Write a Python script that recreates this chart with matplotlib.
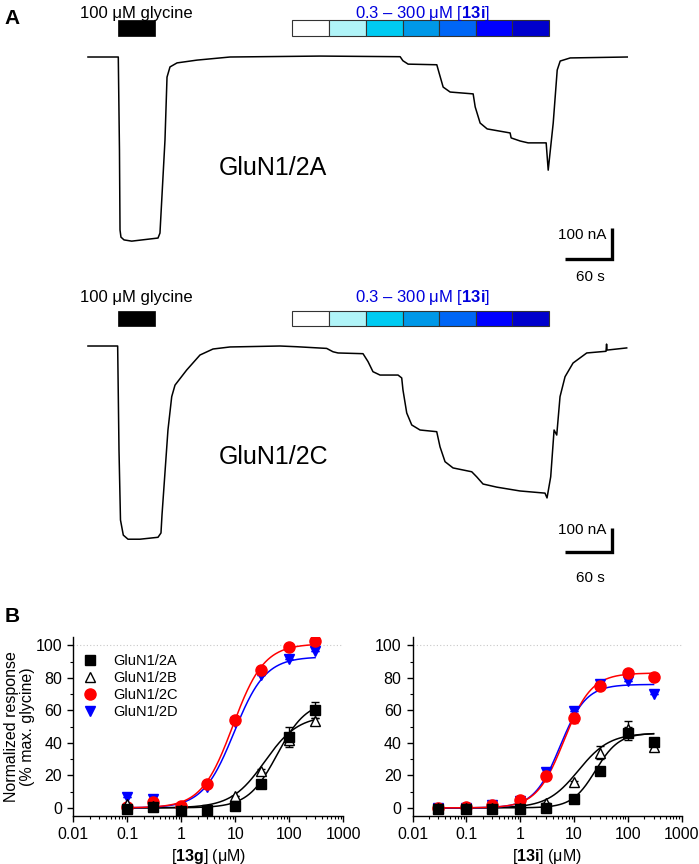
import numpy as np
import matplotlib
matplotlib.use("Agg")
import matplotlib.pyplot as plt
from matplotlib.ticker import LogLocator, MultipleLocator, NullFormatter, FixedLocator

plt.rcParams['font.family'] = ['Liberation Sans', 'DejaVu Sans']
plt.rcParams['mathtext.fontset'] = 'custom'
plt.rcParams['mathtext.rm'] = 'Liberation Sans'
plt.rcParams['mathtext.bf'] = 'Liberation Sans:bold'
plt.rcParams['mathtext.it'] = 'Liberation Sans:italic'

# ---------------- Panel A data (time in s, current in nA) ----------------
trace_2a_t = [0, 38.7, 40.2, 40.9, 42.1, 46, 55.8, 89.4, 91.9, 98.3, 100.9, 104.7,
              113.7, 139.2, 181.4, 296.3, 398.5, 402, 408.7, 445.3, 448.3, 453.4,
              462.3, 491.7, 494.3, 500.6, 509.6, 538.9, 540.2, 551.7, 561.9, 584.9,
              587.5, 593.9, 599, 602.8, 615.6, 688.4]
trace_2a_i = [0, 0, -300, -558, -581, -590, -594, -584, -568, -268, -65, -32,
              -19, -10, 0, 3, 1, -12, -23, -25, -52, -97,
              -113, -119, -161, -213, -232, -245, -261, -271, -277, -277,
              -365, -213, -42, -13, -3, 0]

trace_2c_t = [0, 37.9, 39.6, 41.5, 45.1, 51.1, 66.4, 89.4, 93.2, 94.5, 102.1, 106.9,
              111.1, 126, 143, 159.6, 181.3, 245.1, 266.4, 304.7, 312.8, 319.2,
              351.1, 357.5, 363.8, 372.8, 395.8, 400.5, 402.1, 406.9, 413.3, 423.9,
              445.2, 449.4, 455.8, 466, 489.9, 496.2, 504.3, 521.8, 551.5, 583.4,
              586, 590.7, 595, 598.4, 602.6, 609, 619.2, 636.7, 661.3, 662, 662.6, 687.7]
trace_2c_i = [0, 0, -433, -725, -788, -805, -805, -797, -779, -704, -350, -211,
              -163, -100, -37.5, -12.5, -4, 0, -3, -10, -24, -29,
              -32, -65, -107, -121, -121, -133, -183, -279, -329, -350,
              -357, -420, -482, -508, -524, -545, -575, -588, -604, -613,
              -633, -545, -350, -371, -211, -128, -71, -29, -22, 8, -17, -8]

glycine_on, glycine_off = 38.6, 85.8
conc_steps_13i = ["0.3", "1", "3", "10", "30", "100", "300"]
conc_seg_edges = [260.4, 307.3, 354.5, 401.9, 448.5, 494.7, 540.8, 588.0]
conc_colors = ['#ffffff', '#b0f4f8', '#00cbf2', '#0098e8', '#0066f5', '#0000ff', '#0000cc']

# ---------------- Panel B data ----------------
conc_13g = [0.1, 0.3, 1, 3, 10, 30, 100, 300]
g_2A = [-0.6, 0.8, -2.1, -1.2, 1.4, 14.8, 43.5, 60.2]
g_2A_sem = [0, 0, 0, 0, 0, 1.5, 6, 5]
g_2B = [2.5, 1.0, -1.0, -1.0, 7.6, 23.0, 41.5, 53.2]
g_2B_sem = [0, 0, 0, 0, 0, 1, 3, 2]
g_2C = [0.4, 3.5, 1.0, 14.8, 53.8, 84.6, 99.0, 102.5]
g_2D = [6.6, 5.5, -4.0, 12.7, 52.8, 81.5, 91.8, 96.3]

conc_13i = [0.03, 0.1, 0.3, 1, 3, 10, 30, 100, 300]
i_2A = [-0.6, -0.6, -0.6, -0.6, 0.0, 5.5, 22.6, 46.0, 40.5]
i_2A_sem = [0, 0, 0, 0, 0, 0, 1, 4, 2]
i_2B = [0.0, 0.0, 0.0, 0.0, 2.9, 15.8, 33.9, 48.7, 37.4]
i_2B_sem = [0, 0, 0, 0, 0, 1, 4, 5, 2]
i_2C = [0.0, 0.4, 1.8, 4.9, 19.9, 55.4, 75.2, 83.2, 80.5]
i_2C_sem = [0, 0, 0, 0, 0, 3, 1, 0, 0]
i_2D = [0.0, 0.0, 1.5, 4.5, 22.0, 59.5, 76.0, 78.0, 69.8]
i_2D_sem = [0, 0, 0, 0, 0, 0, 2, 0, 0]

# Hill-fit parameters (top, EC50, nH)
fit_13g = {'2A': (66, 60, 1.6), '2B': (57, 35, 1.4), '2C': (101, 9, 1.5), '2D': (93, 9.5, 1.5)}
fit_13i = {'2A': (46, 25, 2.0), '2B': (46, 12, 1.5), '2C': (83, 6.5, 1.7), '2D': (76, 5.5, 1.8)}

labels = ['GluN1/2A', 'GluN1/2B', 'GluN1/2C', 'GluN1/2D']

fig = plt.figure(figsize=(6.99, 8.64), dpi=100)
W, H = 699.0, 864.0


def px_axes(x0, y0, x1, y1):
    return fig.add_axes([x0 / W, 1 - y1 / H, (x1 - x0) / W, (y1 - y0) / H])


def draw_trace_panel(ax, t, i, ylim, bar_lo, bar_hi, txt_y, name, name_y, sb_y, sb_txt_y, sb_s_y):
    ax.set_xlim(-112.3, 780.0)
    ax.set_ylim(*ylim)
    ax.axis('off')
    ax.plot(t, i, color='black', lw=1.1, solid_joinstyle='round')
    ax.bar([glycine_on], [bar_hi - bar_lo], bottom=bar_lo, width=glycine_off - glycine_on,
           align='edge', color='black', edgecolor='black', lw=0.5)
    ax.bar(conc_seg_edges[:-1], [bar_hi - bar_lo] * len(conc_colors), bottom=bar_lo,
           width=np.diff(conc_seg_edges), align='edge', color=conc_colors,
           edgecolor='#333333', lw=0.8)
    ax.text((glycine_on + glycine_off) / 2, txt_y, '100 μM glycine', ha='center', va='center',
            fontsize=12)
    ax.text(427.7, txt_y, r'0.3 – 300 μM [$\mathbf{13i}$]', ha='center', va='center',
            fontsize=12, color='#0000dd')
    ax.text(236.3, name_y, name, ha='center', va='center', fontsize=18)
    # scale bar 60 s x 100 nA
    ax.plot([609, 669, 669], [sb_y, sb_y, sb_y + 100], color='black', lw=2.4,
            solid_joinstyle='miter', solid_capstyle='butt')
    ax.text(662, sb_txt_y, '100 nA', ha='right', va='center', fontsize=11)
    ax.text(641, sb_s_y, '60 s', ha='center', va='center', fontsize=11)


axA1 = px_axes(0, 0, 699, 285)
draw_trace_panel(axA1, trace_2a_t, trace_2a_i, (-735.5, 183.9), 67.7, 119.4, 141.9,
                 'GluN1/2A', -358, -652, -574, -710)

axA2 = px_axes(0, 285, 699, 600)
draw_trace_panel(axA2, trace_2c_t, trace_2c_i, (-1058.3, 254.2), 83.3, 145.8, 204,
                 'GluN1/2C', -462, -858, -767, -967)

fig.text(12 / W, 1 - 18 / H, 'A', fontsize=15, fontweight='bold', ha='center', va='center')
fig.text(12 / W, 1 - 617 / H, 'B', fontsize=15, fontweight='bold', ha='center', va='center')


def hill(x, top, ec50, n):
    x = np.asarray(x, dtype=float)
    return top / (1 + (ec50 / x) ** n)


def dose_panel(ax, conc, d2a, s2a, d2b, s2b, d2c, s2c, d2d, s2d, fits, xlab, xmin_fit, legend):
    ax.set_xscale('log')
    ax.set_xlim(0.01, 1000)
    ax.set_ylim(-5, 105)
    ax.axhline(100, color='#c8c8c8', ls=(0, (1, 2)), lw=0.8, zorder=0)
    xx = np.logspace(np.log10(xmin_fit), np.log10(300), 300)
    ax.plot(xx, hill(xx, *fits['2B']), color='black', lw=1.1, zorder=2)
    ax.plot(xx, hill(xx, *fits['2A']), color='black', lw=1.1, zorder=2)
    ax.plot(xx, hill(xx, *fits['2D']), color='#0000ff', lw=1.1, zorder=2)
    ax.plot(xx, hill(xx, *fits['2C']), color='#ff0000', lw=1.1, zorder=2)
    ek = dict(capsize=3, elinewidth=1, capthick=1, ls='none')
    ax.errorbar(conc, d2d, yerr=s2d, ecolor='#0000ff', **ek, zorder=3)
    ax.errorbar(conc, d2c, yerr=s2c, ecolor='#ff0000', **ek, zorder=3)
    ax.errorbar(conc, d2b, yerr=s2b, ecolor='black', **ek, zorder=3)
    ax.errorbar(conc, d2a, yerr=s2a, ecolor='black', **ek, zorder=3)
    hA = ax.plot(conc, d2a, 's', color='black', ms=7.5, zorder=6, label=labels[0])[0]
    hB = ax.plot(conc, d2b, '^', mfc='white', mec='black', mew=1.0, ms=7.5, zorder=5,
                 label=labels[1])[0]
    hD = ax.plot(conc, d2d, 'v', color='#0000ff', ms=7.5, zorder=4, label=labels[3])[0]
    hC = ax.plot(conc, d2c, 'o', color='#ff0000', ms=8, zorder=4.5, label=labels[2])[0]
    ax.xaxis.set_major_locator(FixedLocator([0.01, 0.1, 1, 10, 100, 1000]))
    ax.set_xticklabels(['0.01', '0.1', '1', '10', '100', '1000'])
    ax.xaxis.set_minor_locator(LogLocator(base=10, subs=np.arange(2, 10)))
    ax.xaxis.set_minor_formatter(NullFormatter())
    ax.yaxis.set_major_locator(FixedLocator([0, 20, 40, 60, 80, 100]))
    ax.yaxis.set_minor_locator(MultipleLocator(10))
    for s in ['top', 'right']:
        ax.spines[s].set_visible(False)
    for s in ['left', 'bottom']:
        ax.spines[s].set_linewidth(1.0)
    ax.tick_params(which='major', length=4.5, width=1.0, labelsize=11.5, direction='out')
    ax.tick_params(which='minor', length=2.5, width=0.8, direction='out')
    ax.set_xlabel(xlab, fontsize=11.5)
    ax.xaxis.set_label_coords(0.5, -0.172)
    if legend:
        ax.legend(handles=[hA, hB, hC, hD], loc='upper left', bbox_to_anchor=(-0.01, 0.965),
                  frameon=False, fontsize=10.5, handletextpad=1.0, labelspacing=0.22,
                  borderpad=0.2, handlelength=1.2)
        ax.set_ylabel('Normalized response\n(% max. glycine)', fontsize=11.5, linespacing=1.15)
        ax.yaxis.set_label_coords(-0.14, 0.5)


axB1 = px_axes(73.3, 637.3, 343.3, 816)
dose_panel(axB1, conc_13g, g_2A, g_2A_sem, g_2B, g_2B_sem, g_2C, [0] * 8, g_2D, [0] * 8,
           fit_13g, r'[$\mathbf{13g}$] (μM)', 0.1, True)

axB2 = px_axes(412.7, 637.3, 681.7, 816)
dose_panel(axB2, conc_13i, i_2A, i_2A_sem, i_2B, i_2B_sem, i_2C, i_2C_sem, i_2D, i_2D_sem,
           fit_13i, r'[$\mathbf{13i}$] (μM)', 0.03, False)

fig.savefig('out.png', dpi=100)
